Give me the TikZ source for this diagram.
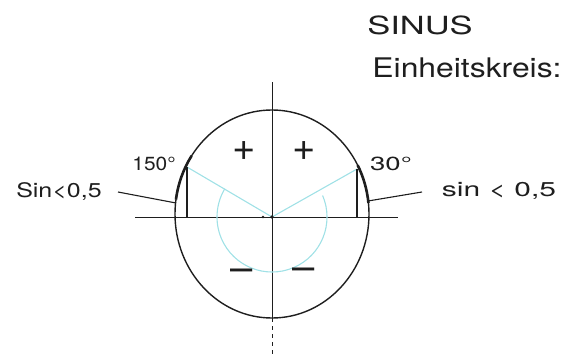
\documentclass[tikz,border=0pt]{standalone}
\usepackage{fontspec}
\setmainfont{TeX Gyre Heros}
\usetikzlibrary{calc}
\definecolor{pen}{RGB}{30,30,30}
\definecolor{cyanpen}{RGB}{160,225,230}
\tikzset{
  hand/.style={inner sep=0pt, text=pen, anchor=center},
  signtext/.style={hand, font=\fontsize{40}{40}\selectfont},
  axisline/.style={draw=pen, line width=0.9pt},
  rim/.style={draw=pen, line width=1.4pt},
  sineline/.style={draw=pen, line width=2.4pt},
  thickrim/.style={draw=pen, line width=2.6pt},
  helper/.style={draw=cyanpen, line width=1.1pt},
  pointer/.style={draw=pen, line width=1.1pt},
}
\begin{document}
\begin{tikzpicture}[x=1pt,y=-1pt]
\useasboundingbox (0,0) rectangle (565,356);
% centre and key points
\coordinate (O) at (272,217);
\coordinate (E) at (272,214);
\coordinate (P30) at (357,169);
\coordinate (P150) at (187,167);
\coordinate (F30) at (357,217);
\coordinate (F150) at (187,217);
\coordinate (Vtop) at (272,82);
\coordinate (Vbot) at (272,318);
\coordinate (Vend) at (272,355);
\coordinate (Hl) at (135,217);
\coordinate (Hr) at (398,217);
\coordinate (Ql) at (176,203);
\coordinate (Qr) at (368,201);
% ellipse (unit circle as drawn)
\draw[rim] (E) ellipse [x radius=97, y radius=104];
% thickened parts of the rim near the angles
\draw[thickrim] (E) ++(-28:97 and 104) arc[start angle=-28, end angle=-6, x radius=97, y radius=104];
\draw[thickrim] (E) ++(-146:97 and 104) arc[start angle=-146, end angle=-172, x radius=97, y radius=104];
% axes
\draw[axisline] (Hl) -- (Hr);
\draw[axisline] (Vtop) -- (Vbot);
\draw[axisline, dash pattern=on 4pt off 4pt] (Vbot) -- (Vend);
% cyan helper radii and angle arc
\draw[helper] (O) -- (P30);
\draw[helper] (O) -- (P150);
\draw[helper] (O) ++(-23:55) arc[start angle=-23, end angle=211, radius=55];
% sine segments
\draw[sineline] (P30) -- (F30);
\draw[sineline] (P150) -- (F150);
% dots
\fill[pen] (O) circle (1.8);
\fill[pen] (263,217) circle (1.3);
% signs
\node[signtext] (pl) at (244,151) {+};
\node[signtext] (pr) at (304,151) {+};
\node[signtext] (ml) at (242,275) {–};
\node[signtext] (mr) at (304,274) {–};
% angle labels
\node[hand, font=\fontsize{19}{20}\selectfont] (a150) at (154,164) {\scalebox{1.1}[1]{150°}};
\node[hand, font=\fontsize{19}{20}\selectfont] (a30) at (391,164) {\scalebox{1.45}[1]{30°}};
% sine labels
\node[hand, font=\fontsize{20}{22}\selectfont] (sl) at (59,191) {\scalebox{1.25}[1]{Sin<0,5}};
\node[hand, font=\fontsize{20}{22}\selectfont] (sr) at (499,191) {\scalebox{1.5}[1]{sin < 0,5}};
\draw[pointer] (118,192) -- (Ql);
\draw[pointer] (Qr) -- (422,192);
% title
\node[hand, font=\fontsize{25}{26}\selectfont] (t1) at (420,25) {\scalebox{1.38}[1]{SINUS}};
\node[hand, font=\fontsize{27}{28}\selectfont] (t2) at (467,68) {\scalebox{1.18}[1]{Einheitskreis:}};
\end{tikzpicture}
\end{document}
